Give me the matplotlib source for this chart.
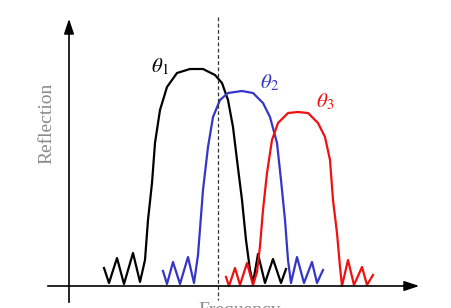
import matplotlib.pyplot as plt

plt.rcParams['mathtext.fontset'] = 'stix'
plt.rcParams['font.family'] = 'Liberation Serif'

# frequency (arb. units) and reflection (arb. units, height above the baseline)
f1 = [104, 109, 117, 124, 133, 140, 145, 148, 152, 155, 160, 167, 177, 190, 203,
      215, 222, 228, 233, 237, 242, 246, 250, 253, 258, 265, 273, 281, 286]
r1 = [18, 3, 28, 2, 33, 4, 26, 66, 103, 143, 176, 199, 213, 217, 217,
      211, 203, 186, 159, 126, 86, 46, 16, 3, 32, 3, 27, 3, 17]

f2 = [163, 167, 173, 180, 188, 194, 198, 203, 208, 213, 220, 228, 242, 253, 263,
      270, 277, 281, 285, 288, 291, 297, 304, 312, 317, 323]
r2 = [15, 2, 24, 2, 29, 3, 31, 96, 139, 169, 186, 193, 195, 193, 183,
      169, 143, 106, 66, 26, 3, 29, 3, 24, 3, 16]

f3 = [226, 229, 235, 240, 247, 253, 257, 260, 263, 267, 272, 278, 288, 298, 308,
      318, 325, 330, 333, 337, 340, 342, 348, 354, 362, 367, 373]
r3 = [9, 0, 18, 1, 23, 1, 14, 40, 76, 113, 146, 163, 173, 174, 173,
      163, 149, 126, 86, 53, 19, 0, 26, 1, 19, 1, 11]

labels = [r'$\theta_1$', r'$\theta_2$', r'$\theta_3$']
label_f = [160, 269, 325]
label_r = [219, 203, 184]
colors = ['black', '#3535c8', '#f01010']

fig = plt.figure(figsize=(4.51, 3.08), dpi=100)
ax = fig.add_axes([0, 0, 1, 1])
ax.set_xlim(0, 451)
ax.set_ylim(-22, 286)
ax.axis('off')

for f, r, c in [(f1, r1, colors[0]), (f2, r2, colors[1]), (f3, r3, colors[2])]:
    ax.plot(f, r, color=c, lw=1.6, solid_joinstyle='round')

for t, x, y, c in zip(labels, label_f, label_r, colors):
    ax.text(x, y, t, color=c, fontsize=15, ha='center', va='center')

# axes with arrows
ax.annotate('', xy=(422, 0), xytext=(45, 0),
            arrowprops=dict(arrowstyle='-|>,head_length=0.9,head_width=0.3', color='black', lw=1.2))
ax.annotate('', xy=(69, 270), xytext=(69, -19),
            arrowprops=dict(arrowstyle='-|>,head_length=0.9,head_width=0.3', color='black', lw=1.2))

# dashed marker
ax.plot([218, 218], [269, -14], color='#333333', lw=0.9, ls=(0, (3, 2)))

ax.text(47, 163, 'Reflection', rotation=90, color='#8a8a8a', fontsize=14,
        ha='center', va='center')
ax.text(240, -16, 'Frequency', color='#8a8a8a', fontsize=14, ha='center', va='top')

fig.savefig('out.png', dpi=100)
